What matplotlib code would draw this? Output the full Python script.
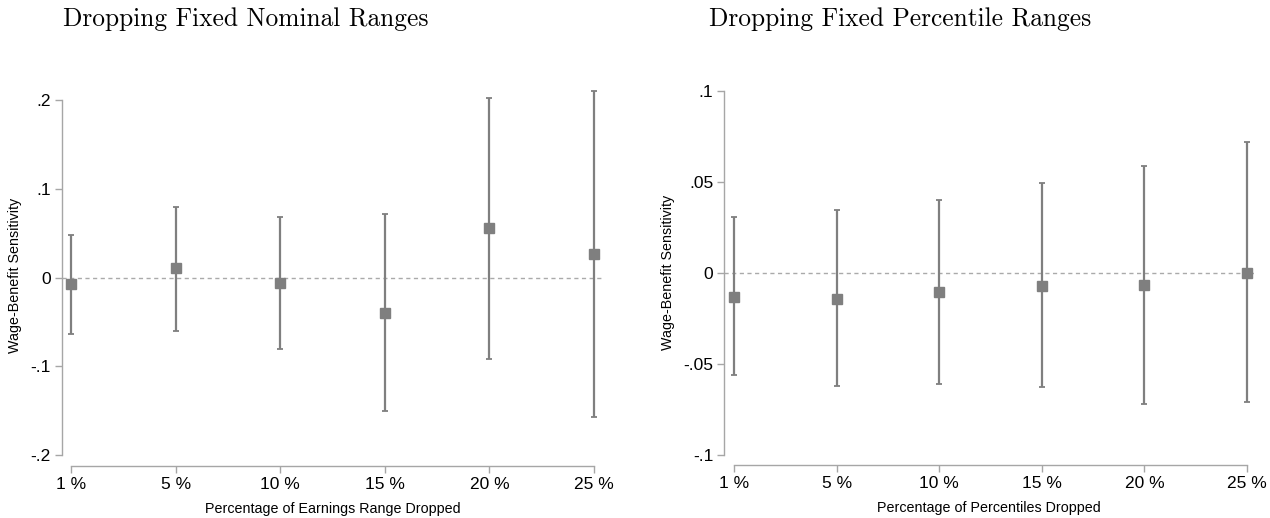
import matplotlib
matplotlib.use("Agg")
import matplotlib.pyplot as plt
import numpy as np

# categories
labels = ["1 %", "5 %", "10 %", "15 %", "20 %", "25 %"]

# left panel: dropping fixed nominal ranges
nom_est = [-0.0075, 0.0106, -0.0063, -0.0394, 0.0556, 0.0264]
nom_lo = [-0.0634, -0.0597, -0.0807, -0.1506, -0.0916, -0.1573]
nom_hi = [0.048, 0.080, 0.0687, 0.0718, 0.202, 0.210]

# right panel: dropping fixed percentile ranges
pct_est = [-0.0132, -0.0143, -0.0102, -0.0070, -0.0064, 0.0002]
pct_lo = [-0.0562, -0.0623, -0.0608, -0.0626, -0.0718, -0.0709]
pct_hi = [0.0308, 0.0345, 0.040, 0.0493, 0.059, 0.0718]

plt.rcParams['font.family'] = ['Liberation Sans', 'DejaVu Sans']

W, H = 1270, 518
fig = plt.figure(figsize=(12.7, 5.18), dpi=100)

spine_col = '#a6a6a6'
mark_col = '#7f7f7f'


def panel(ax, est, lo, hi, yticks, yticklabels, xlabel):
    x = np.arange(len(labels))
    est = np.array(est)
    yerr = [est - np.array(lo), np.array(hi) - est]
    ax.axhline(0, color='#aaaaaa', lw=1, ls=(0, (3, 2.5)), zorder=1)
    ax.errorbar(x, est, yerr=yerr, fmt='s', color=mark_col, ms=7.8,
                elinewidth=1.6, capsize=2.3, capthick=1.3, zorder=3)
    ax.set_xticks(x)
    ax.set_xticklabels(labels, fontsize=12.5)
    ax.set_yticks(yticks)
    ax.set_yticklabels(yticklabels, fontsize=12.5)
    ax.set_xlabel(xlabel, fontsize=10.3, labelpad=7)
    ax.set_ylabel("Wage-Benefit Sensitivity", fontsize=10.3, labelpad=6)
    for s in ['top', 'right']:
        ax.spines[s].set_visible(False)
    for s in ['left', 'bottom']:
        ax.spines[s].set_color(spine_col)
        ax.spines[s].set_linewidth(1)
    ax.spines['bottom'].set_bounds(0, len(labels) - 1)
    ax.spines['left'].set_bounds(yticks[0], yticks[-1])
    ax.tick_params(axis='both', colors=spine_col, labelcolor='black',
                   length=5, width=1, pad=3)


# left axes: spine at x=62px, bottom spine at 465.7px
ax1 = fig.add_axes([62 / W, (H - 465.7) / H, 542 / W, 380.7 / H])
ax1.set_xlim(-0.086, 5.096)
ax1.set_ylim(-0.212, 0.217)
panel(ax1, nom_est, nom_lo, nom_hi,
      [-0.2, -0.1, 0, 0.1, 0.2], ["-.2", "-.1", "0", ".1", ".2"],
      "Percentage of Earnings Range Dropped")

ax2 = fig.add_axes([724.3 / W, (H - 465) / H, 529.7 / W, 385 / H])
ax2.set_xlim(-0.0945, 5.068)
ax2.set_ylim(-0.1055, 0.106)
panel(ax2, pct_est, pct_lo, pct_hi,
      [-0.1, -0.05, 0, 0.05, 0.1], ["-.1", "-.05", "0", ".05", ".1"],
      "Percentage of Percentiles Dropped")

fig.text(246 / W, 1 - 26 / H, "Dropping Fixed Nominal Ranges", family='cmr10',
         fontsize=18.3, ha='center', va='baseline')
fig.text(900 / W, 1 - 26 / H, "Dropping Fixed Percentile Ranges", family='cmr10',
         fontsize=18.3, ha='center', va='baseline')

fig.savefig("out.png", dpi=100, facecolor='white')
